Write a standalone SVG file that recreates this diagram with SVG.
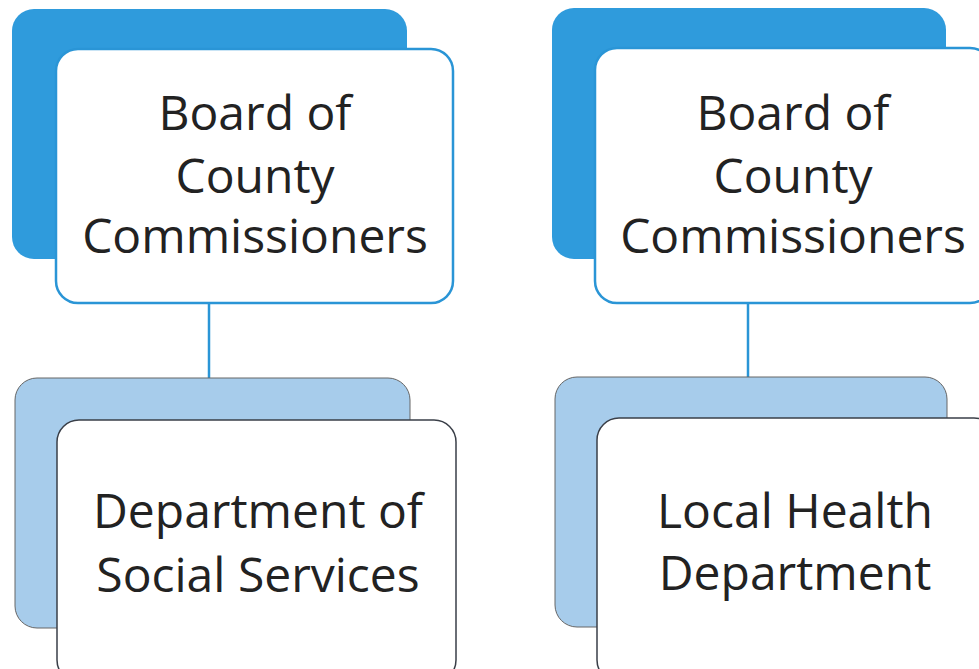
<svg xmlns="http://www.w3.org/2000/svg" width="979" height="669" viewBox="0 0 979 669">
<style>
.backTop{fill:#2f9bdc;stroke:none}
.frontTop{fill:#ffffff;stroke:#2a95d6;stroke-width:2.5}
.backBot{fill:#a7cceb;stroke:#666;stroke-width:1}
.frontBot{fill:#ffffff;stroke:#3a3f48;stroke-width:1.5}
.conn{stroke:#2a95d6;stroke-width:2.5;fill:none}
text{font-family:"Open Sans","Liberation Sans",sans-serif;font-size:48px;fill:#222;text-anchor:middle}
</style>
<rect width="979" height="669" fill="#ffffff"/>
<g id="connectors">
<line class="conn" x1="209" y1="303" x2="209" y2="378"/>
<line class="conn" x1="748" y1="303" x2="748" y2="377"/>
</g>
<g id="board-left">
<rect class="backTop" x="12" y="9" width="395" height="250" rx="22"/>
<rect class="frontTop" x="56" y="49" width="397" height="254" rx="22"/>
<text x="255" y="130">Board of</text>
<text x="255" y="193">County</text>
<text x="255" y="253">Commissioners</text>
</g>
<g id="dss">
<rect class="backBot" x="15" y="378" width="395" height="250" rx="22"/>
<rect class="frontBot" x="57" y="420" width="399" height="262" rx="22"/>
<text x="258" y="528">Department of</text>
<text x="258" y="592">Social Services</text>
</g>
<g id="board-right">
<rect class="backTop" x="552" y="8" width="394" height="251" rx="22"/>
<rect class="frontTop" x="595" y="48" width="397" height="255" rx="22"/>
<text x="793" y="130">Board of</text>
<text x="793" y="193">County</text>
<text x="793" y="253">Commissioners</text>
</g>
<g id="lhd">
<rect class="backBot" x="555" y="377" width="392" height="250" rx="22"/>
<rect class="frontBot" x="597" y="418" width="399" height="264" rx="22"/>
<text x="795" y="528">Local Health</text>
<text x="795" y="590">Department</text>
</g>
</svg>
